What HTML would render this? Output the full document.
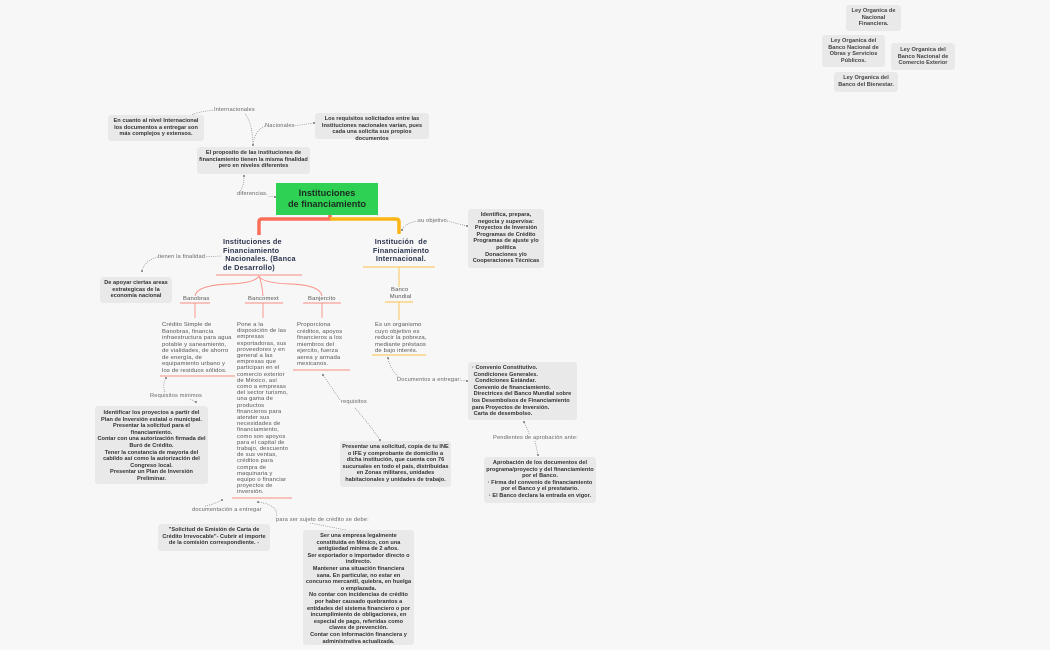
<!DOCTYPE html>
<html><head><meta charset="utf-8">
<style>
html,body{margin:0;padding:0}
body{width:1050px;height:650px;background:#f7f7f7;position:relative;overflow:hidden;font-family:"Liberation Sans","DejaVu Sans",sans-serif;color:#333}
.b{position:absolute;background:#e9e9e9;border-radius:3px;font-size:5.6px;line-height:6.6px;font-weight:bold;text-align:center;color:#333;box-sizing:border-box;padding:3px 2px;letter-spacing:0.03px}
.l{position:absolute;font-size:5.7px;color:#666;white-space:nowrap;background:#f7f7f7;letter-spacing:0.15px}
.t{position:absolute;font-size:5.9px;line-height:6.5px;color:#555;letter-spacing:0.15px}
.h{position:absolute;font-size:7.3px;line-height:8.6px;font-weight:bold;color:#2d3650;letter-spacing:0.2px}
svg{position:absolute;left:0;top:0}
</style></head><body>
<svg width="1050" height="650">
<g fill="none" stroke="#888" stroke-width="0.7" stroke-dasharray="1,1.2">
<path d="M215 110 Q195 112 190 116"/><path d="M240 110 Q252 115 253 145"/>
<path d="M265 126 Q255 130 253 145"/><path d="M293 126 L314 123"/>
<path d="M237 194 Q244 190 244 176"/><path d="M265 196 L275 197"/>
<path d="M418 221 Q405 223 402 230"/><path d="M447 221 L467 226"/>
<path d="M158 257 Q145 260 142 271"/><path d="M202 257 L221 256"/>
<path d="M165 392 Q162 385 166 378"/><path d="M186 397 L196 402"/>
<path d="M340 400 Q330 385 323 375"/><path d="M355 408 Q370 425 380 440"/>
<path d="M400 378 Q390 370 388 358"/><path d="M457 380 L467 381"/>
<path d="M530 436 Q527 428 524 422"/><path d="M535 441 L538 455"/>
<path d="M205 506 Q212 505 222 500"/><path d="M276 518 Q280 505 258 502"/>
<path d="M310 523 L351 531"/>
</g>
<g fill="#777"><circle cx="190" cy="116" r="1"/><circle cx="253" cy="145" r="1"/><circle cx="314" cy="123" r="1"/><circle cx="244" cy="176" r="1"/><circle cx="275" cy="197" r="1"/><circle cx="402" cy="230" r="1"/><circle cx="467" cy="226" r="1"/><circle cx="142" cy="271" r="1"/><circle cx="166" cy="378" r="1"/><circle cx="196" cy="402" r="1"/><circle cx="323" cy="375" r="1"/><circle cx="380" cy="440" r="1"/><circle cx="388" cy="358" r="1"/><circle cx="467" cy="381" r="1"/><circle cx="524" cy="422" r="1"/><circle cx="538" cy="455" r="1"/><circle cx="222" cy="500" r="1"/><circle cx="258" cy="502" r="1"/><circle cx="351" cy="531" r="1"/></g>
<path d="M259 235 V222 Q259 219 262 219 H330 V215" fill="none" stroke="#fa6e5a" stroke-width="3.5"/>
<path d="M330 219 H396 Q399 219 399 222 V234" fill="none" stroke="#fbb516" stroke-width="3.5"/>
<g stroke="#fa8d80" fill="none" stroke-width="0.9">
<path d="M216 275 H302"/>
<path d="M259 276 Q255 283 230 284 Q197 285 195 296"/>
<path d="M259 276 Q262 283 263 296"/>
<path d="M259 276 Q262 283 290 284 Q320 285 322 296"/>
<path d="M180 303 H210 M245 303 H283 M303 303 H341"/>
<path d="M195 303 V318 M263 303 V318 M322 303 V318"/>
<path d="M160 376 H235 M232 498 H292 M293 370 H350"/>
</g>
<g stroke="#fbc14a" fill="none" stroke-width="0.9">
<path d="M363 267 H435 M399 267 V287 M385 302 H413 M399 302 V320 M372 355 H426"/>
</g>
</svg>

<div class="b" style="left:108px;top:115px;width:96px;height:26px">En cuanto al nivel Internacional los documentos a entregar son más complejos y extensos.</div>
<div class="l" style="left:214px;top:107px">Internacionales</div>
<div class="l" style="left:265px;top:123px">Nacionales</div>
<div class="b" style="left:315px;top:113px;width:114px;height:26px">Los requisitos solicitados entre las Instituciones nacionales varían, pues cada una solicita sus propios documentos</div>
<div class="b" style="left:197px;top:147px;width:113px;height:27px">El proposito de las instituciones de financiamiento tienen la misma finalidad pero en niveles diferentes</div>
<div class="l" style="left:237px;top:191px">diferencias.</div>
<div style="position:absolute;left:276px;top:183px;width:102px;height:32px;background:#2ed153;font-size:9.2px;line-height:11px;font-weight:bold;color:#1c2a22;text-align:center;padding-top:5px;box-sizing:border-box">Instituciones<br>de financiamiento</div>

<div class="h" style="left:223px;top:238px;width:80px">Instituciones de<br>Financiamiento<br>&nbsp;Nacionales. (Banca<br>de Desarrollo)</div>
<div class="h" style="left:369px;top:238px;width:64px;text-align:center">Institución &nbsp;de Financiamiento Internacional.</div>
<div class="l" style="left:418px;top:218px">su objetivo</div>
<div class="b" style="left:468px;top:209px;width:76px;height:59px">Identifica, prepara, negocia y supervisa: Proyectos de Inversión Programas de Crédito Programas de ajuste y/o política<br>Donaciones y/o Cooperaciones Técnicas</div>
<div class="l" style="left:158px;top:254px">tienen la finalidad</div>
<div class="b" style="left:100px;top:277px;width:72px;height:26px">De apoyar ciertas areas estrategicas de la economía nacional</div>

<div class="t" style="left:183px;top:296px">Banobras</div>
<div class="t" style="left:248px;top:296px">Bancomext</div>
<div class="t" style="left:308px;top:296px">Banjercito</div>
<div class="t" style="left:388px;top:287px;text-align:center">Banco<br>&nbsp;Mundial</div>

<div class="t" style="left:162px;top:322px;width:72px">Crédito Simple de Banobras, financia infraestructura para agua potable y saneamiento, de vialidades, de ahorro de energía, de equipamiento urbano y los de residuos sólidos.</div>
<div class="t" style="left:237px;top:322px;width:53px;line-height:6.2px">Pone a la disposición de las empresas exportadoras, sus proveedores y en general a las empresas que participan en el comercio exterior de México, así como a empresas del sector turismo, una gama de productos financieros para atender sus necesidades de financiamiento, como son apoyos para el capital de trabajo, descuento de sus ventas, créditos para compra de maquinaria y equipo o financiar proyectos de inversión.</div>
<div class="t" style="left:297px;top:322px;width:50px">Proporciona créditos, apoyos financieros a los miembros del ejercito, fuerza aerea y armada mexicanos.</div>
<div class="t" style="left:375px;top:322px;width:55px">Es un organismo cuyo objetivo es reducir la pobreza, mediante préstaos de bajo interés.</div>

<div class="l" style="left:150px;top:393px">Requisitos minimos</div>
<div class="b" style="left:95px;top:406px;width:113px;height:78px;padding-top:4px">Identificar los proyectos a partir del Plan de Inversión estatal o municipal.<br>Presentar la solicitud para el financiamiento.<br>Contar con una autorización firmada del Buró de Crédito.<br>Tener la constancia de mayoria del cabildo así como la autorización del Congreso local.<br>Presentar un Plan de Inversión Preliminar.</div>
<div class="l" style="left:341px;top:399px">requisitos</div>
<div class="b" style="left:340px;top:441px;width:111px;height:46px">Presentar una solicitud, copia de tu INE o IFE y comprobante de domicilio a dicha institución, que cuenta con 76 sucursales en todo el país, distribuidas en Zonas militares, unidades habitacionales y unidades de trabajo.</div>
<div class="l" style="left:397px;top:377px">Documentos a entregar:</div>
<div class="b" style="left:468px;top:362px;width:109px;height:58px;text-align:left;padding-left:4px">· Convenio Constitutivo.<br>&nbsp;Condiciones Generales.<br>&nbsp;&nbsp;Condiciones Estándar.<br>&nbsp;Convenio de financiamiento.<br>&nbsp;Directrices del Banco Mundial sobre los Desembolsos de Financiamiento para Proyectos de Inversión.<br>&nbsp;Carta de desembolso.</div>
<div class="l" style="left:493px;top:435px">Pendientes de aprobación ante:</div>
<div class="b" style="left:484px;top:457px;width:112px;height:46px">Aprobación de los documentos del programa/proyecto y del financiamiento por el Banco.<br>· Firma del convenio de financiamiento por el Banco y el prestatario.<br>· El Banco declara la entrada en vigor.</div>
<div class="l" style="left:192px;top:507px">documentación a entregar</div>
<div class="b" style="left:158px;top:524px;width:112px;height:27px">"Solicitud de Emisión de Carta de Crédito Irrevocable"- Cubrir el importe de la comisión correspondiente. -</div>
<div class="l" style="left:276px;top:517px">para ser sujeto de crédito se debe:</div>
<div class="b" style="left:303px;top:530px;width:111px;height:115px">Ser una empresa legalmente constituida en México, con una antigüedad mínima de 2 años.<br>Ser exportador o importador directo o indirecto.<br>Mantener una situación financiera sana. En particular, no estar en concurso mercantil, quiebra, en huelga o emplazada.<br>No contar con incidencias de crédito por haber causado quebrantos a entidades del sistema financiero o por incumplimiento de obligaciones, en especial de pago, referidas como claves de prevención.<br>Contar con información financiera y administrativa actualizada.</div>

<div class="b" style="left:846px;top:5px;width:55px;height:26px;color:#444">Ley Organica de Nacional Financiera.</div>
<div class="b" style="left:822px;top:35px;width:63px;height:32px;color:#444">Ley Organica del Banco Nacional de Obras y Servicios Públicos.</div>
<div class="b" style="left:891px;top:43px;width:64px;height:27px;color:#444;padding-top:4px">Ley Organica del Banco Nacional de Comercio Exterior</div>
<div class="b" style="left:834px;top:72px;width:64px;height:20px;color:#444">Ley Organica del Banco del Bienestar.</div>
</body></html>
